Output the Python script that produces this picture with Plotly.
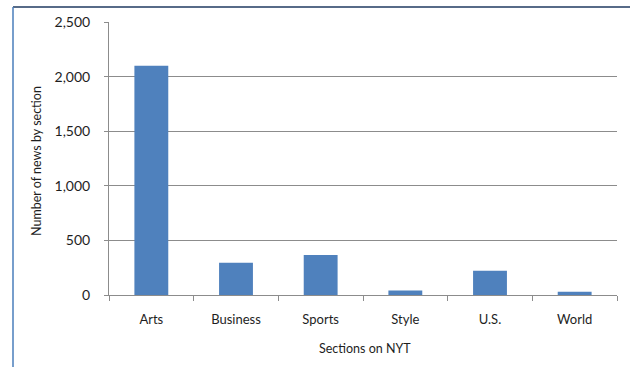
import plotly.graph_objects as go

# News counts per NYT section
sections = ["Arts", "Business", "Sports", "Style", "U.S.", "World"]
news_counts = [2100, 295, 366, 42, 222, 30]
y_ticks = [0, 500, 1000, 1500, 2000, 2500]

W, H = 630, 367
L, R, T, B = 109, 13, 22, 72
plot_w = W - L - R
plot_h = H - T - B

def px_x(p):
    return (p - L) / plot_w

def px_y(p):
    return (H - B - p) / plot_h

font_family = "Lato, 'Open Sans', sans-serif"
text_color = "#1e1e1e"
grid_color = "#8c8c8c"

fig = go.Figure(
    go.Bar(
        x=sections,
        y=news_counts,
        marker=dict(color="#4f81bd", line=dict(width=0)),
        width=0.4,
    )
)

fig.update_layout(
    width=W,
    height=H,
    margin=dict(l=L, r=R, t=T, b=B, pad=0),
    paper_bgcolor="white",
    plot_bgcolor="white",
    showlegend=False,
    font=dict(family=font_family, size=13, color=text_color),
    xaxis=dict(
        type="category",
        showline=True,
        linecolor=grid_color,
        linewidth=1,
        ticks="outside",
        tickson="boundaries",
        ticklen=5,
        tickcolor=grid_color,
        showgrid=False,
        ticklabelstandoff=12,
        tickfont=dict(size=13, color=text_color),
    ),
    yaxis=dict(
        range=[0, 2500],
        tickvals=y_ticks,
        tickformat=",",
        showline=True,
        linecolor=grid_color,
        linewidth=1,
        ticks="outside",
        ticklen=4,
        tickcolor=grid_color,
        showgrid=True,
        gridcolor=grid_color,
        gridwidth=1,
        zeroline=False,
        ticklabelstandoff=11,
        tickfont=dict(size=14, color=text_color),
    ),
    annotations=[
        dict(
            text="Number of news by section",
            xref="paper", yref="paper",
            x=px_x(36), y=px_y(161),
            xanchor="center", yanchor="middle",
            textangle=-90,
            showarrow=False,
            font=dict(size=12.5, color=text_color),
        ),
        dict(
            text="Sections on NYT",
            xref="paper", yref="paper",
            x=px_x(365), y=px_y(348),
            xanchor="center", yanchor="middle",
            showarrow=False,
            font=dict(size=12.5, color=text_color),
        ),
    ],
    shapes=[
        # outer frame: top and left edges
        dict(type="line", xref="paper", yref="paper",
             x0=px_x(13), x1=px_x(640), y0=px_y(7), y1=px_y(7),
             line=dict(color="#1f3a60", width=1.5)),
        dict(type="line", xref="paper", yref="paper",
             x0=px_x(13), x1=px_x(13), y0=px_y(7), y1=px_y(380),
             line=dict(color="#4a7ebb", width=1.5)),
    ],
)

fig.write_html("out.html")
